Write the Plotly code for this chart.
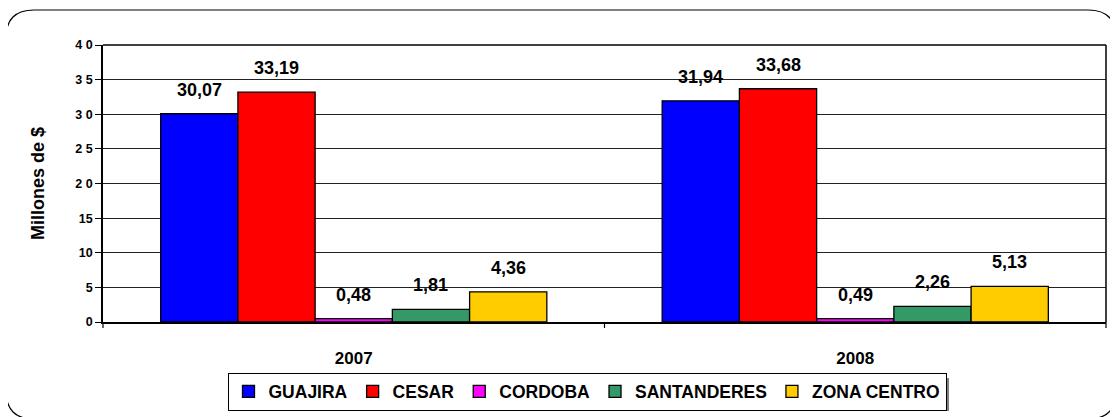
import plotly.graph_objects as go

years = ["2007", "2008"]
series = ["GUAJIRA", "CESAR", "CORDOBA", "SANTANDERES", "ZONA CENTRO"]
values = {
    "GUAJIRA": [30.07, 31.94],
    "CESAR": [33.19, 33.68],
    "CORDOBA": [0.48, 0.49],
    "SANTANDERES": [1.81, 2.26],
    "ZONA CENTRO": [4.36, 5.13],
}
colors = ["#0000FF", "#FF0000", "#FF00FF", "#339966", "#FFCC00"]
y_ticks = [0, 5, 10, 15, 20, 25, 30, 35, 40]
y_tick_text = ["0", "5", "10", "15", "2 0", "2 5", "3 0", "3 5", "4 0"]

OFF = 8  # page body margin
W, H = 1118 - OFF, 417 - OFF
L, R, T, B = 103 - OFF, 1106 - OFF, 45 - OFF, 322 - OFF
BARGAP = 0.23

fig = go.Figure()
for name, col in zip(series, colors):
    vals = values[name]
    fig.add_trace(go.Bar(
        x=years, y=vals, name=name,
        marker=dict(color=col, line=dict(color="#000000", width=1.3)),
    ))

# value labels above bars (category axis: annotation x is the category index)
cat_w = (R - L) / len(years)
bar_w = cat_w * (1 - BARGAP) / len(series)
annotations = []
for i, name in enumerate(series):
    for j, v in enumerate(values[name]):
        annotations.append(dict(
            x=j, y=v, xref="x", yref="y",
            text=f"{v:.2f}".replace(".", ","), showarrow=False,
            xanchor="center", yanchor="bottom",
            xshift=(i - (len(series) - 1) / 2) * bar_w, yshift=12,
            font=dict(family="Liberation Sans, Arial", size=18, color="#000000", weight="bold"),
        ))

def px(x):
    return (x - OFF - L) / (R - L)

def py(y):
    return (B - (y - OFF)) / (B - T)

# rounded outer border
x0, x1, y0, y1, r = 6, 1116, 10, 419, 28
path = (f"M {px(x0+r)},{py(y0)} L {px(x1-r)},{py(y0)} "
        f"Q {px(x1)},{py(y0)} {px(x1)},{py(y0+r)} L {px(x1)},{py(y1-r)} "
        f"Q {px(x1)},{py(y1)} {px(x1-r)},{py(y1)} L {px(x0+r)},{py(y1)} "
        f"Q {px(x0)},{py(y1)} {px(x0)},{py(y1-r)} L {px(x0)},{py(y0+r)} "
        f"Q {px(x0)},{py(y0)} {px(x0+r)},{py(y0)} Z")

shapes = [
    dict(type="path", path=path, xref="paper", yref="paper",
         line=dict(color="#000000", width=1.2), layer="below"),
    # legend shadow
    dict(type="rect", xref="paper", yref="paper",
         x0=px(231), x1=px(949), y0=py(378), y1=py(411),
         fillcolor="#808080", line=dict(width=0), layer="below"),
    # plot frame top/right
    dict(type="line", xref="paper", yref="paper", x0=0, x1=1, y0=1, y1=1,
         line=dict(color="#000000", width=1.5)),
    dict(type="line", xref="paper", yref="paper", x0=1, x1=1, y0=0, y1=1,
         line=dict(color="#000000", width=1.5)),
]
# category ticks on x axis
for xp in [103, (103 + 1106) / 2, 1106]:
    shapes.append(dict(type="line", xref="paper", yref="paper",
                       x0=px(xp), x1=px(xp), y0=0, y1=py(328),
                       line=dict(color="#000000", width=1.2)))

fig.update_layout(
    width=W, height=H,
    margin=dict(l=L, r=W - R, t=T, b=H - B, pad=0, autoexpand=False),
    paper_bgcolor="#FFFFFF", plot_bgcolor="#FFFFFF",
    barmode="group", bargap=BARGAP, bargroupgap=0,
    font=dict(family="Liberation Sans, Arial", color="#000000"),
    showlegend=True,
    legend=dict(orientation="h", x=px(587), y=py(391.5), xanchor="center", yanchor="middle",
                bgcolor="#FFFFFF", bordercolor="#000000", borderwidth=1,
                font=dict(size=17.5, weight="bold", family="Liberation Sans, Arial"),
                itemwidth=30, tracegroupgap=0),
    shapes=shapes,
    annotations=annotations,
    xaxis=dict(type="category", range=[-0.5, len(years) - 0.5],
               showline=True, linecolor="#000000", linewidth=1.5, ticks="",
               tickfont=dict(size=17, weight="bold"), showgrid=False,
               ticklabelstandoff=20, fixedrange=True),
    yaxis=dict(range=[0, 40], tickvals=y_ticks, ticktext=y_tick_text,
               showline=True, linecolor="#000000", linewidth=1.5,
               ticks="outside", ticklen=6, tickcolor="#000000",
               tickfont=dict(size=12.5, weight="bold"),
               gridcolor="#222222", gridwidth=1,
               title=dict(text="Millones de $", font=dict(size=18, weight="bold"), standoff=26),
               zeroline=False),
)

fig.write_html("out.html")
